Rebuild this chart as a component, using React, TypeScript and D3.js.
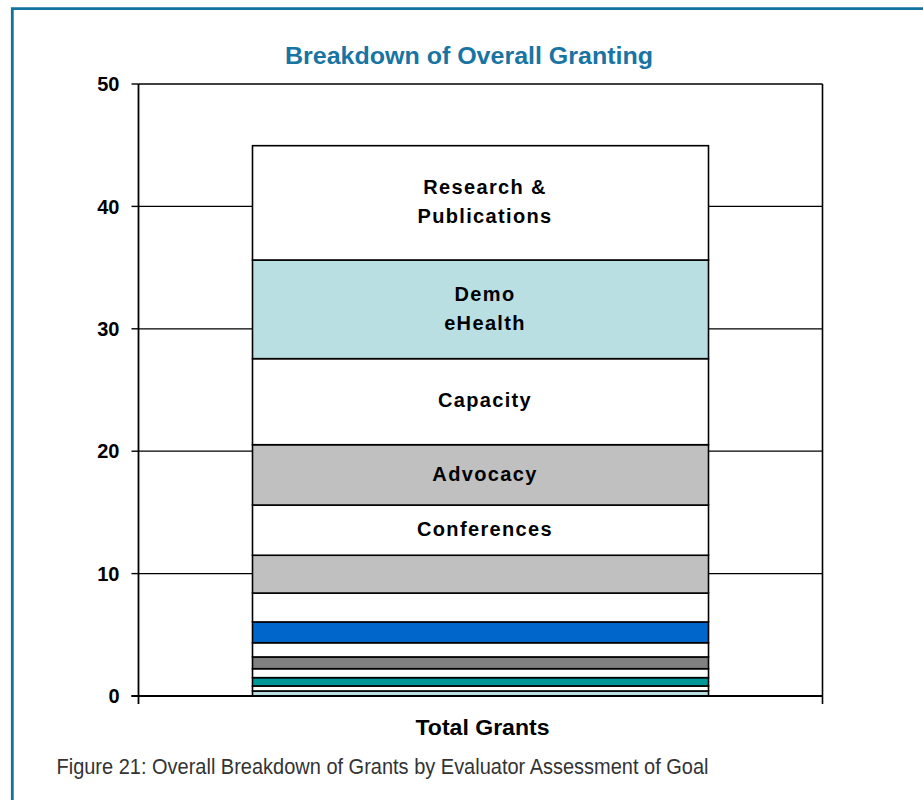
import React from "react";
import * as d3 from "d3";

const CATEGORY = "Total Grants";
const SEGMENT_LABELS: string[][] = [
  [], [], [], [], [], [], [], [], [],
  ["Conferences"],
  ["Advocacy"],
  ["Capacity"],
  ["Demo", "eHealth"],
  ["Research &", "Publications"],
];
const SEGMENT_VALUES: number[] = [0.41, 0.41, 0.68, 0.73, 0.96, 1.16, 1.7, 2.36, 3.09, 4.1, 4.93, 7.03, 8.06, 9.34];
const SEGMENT_COLORS: string[] = [
  "#b9dfe2", "#ffffff", "#009999", "#ffffff", "#808080", "#ffffff", "#0066cc",
  "#ffffff", "#c0c0c0", "#ffffff", "#c0c0c0", "#ffffff", "#b9dfe2", "#ffffff",
];
const Y_TICKS: number[] = [0, 10, 20, 30, 40, 50];
const TITLE = "Breakdown of Overall Granting";
const CAPTION = "Figure 21: Overall Breakdown of Grants by Evaluator Assessment of Goal";

export default function App() {
  const W = 923, H = 800;
  const left = 138.5, right = 822.5, top = 84, bottom = 696;
  const y = d3.scaleLinear().domain([0, 50]).range([bottom, top]);
  const x = d3.scaleBand<string>().domain([CATEGORY]).range([left, right]).paddingInner(0).paddingOuter(0.25);
  const bx = x(CATEGORY)!;
  const bw = x.bandwidth();
  const cum: number[] = [];
  SEGMENT_VALUES.reduce((acc, v) => { cum.push(acc); return acc + v; }, 0);
  const font = "'Liberation Sans', Arial, sans-serif";

  return (
    <svg width={W} height={H} style={{ position: "absolute", left: 0, top: 0, background: "#fff" }} fontFamily={font}>
      {/* page frame */}
      <path d={`M12.3,${H + 5} L12.3,8.7 L${W + 5},8.7`} fill="none" stroke="#12739f" strokeWidth={2.8} />
      {/* title */}
      <text x={469} y={63.5} textAnchor="middle" fontSize={23} fontWeight="bold" fill="#1874a2"
        textLength={368} lengthAdjust="spacingAndGlyphs">{TITLE}</text>
      {/* gridlines */}
      {Y_TICKS.filter(t => t > 0 && t < 50).map(t => (
        <line key={"g" + t} x1={left} x2={right} y1={y(t)} y2={y(t)} stroke="#000" strokeWidth={1.2} />
      ))}
      {/* frame top & right */}
      <line x1={left} x2={right} y1={top} y2={top} stroke="#000" strokeWidth={1.6} />
      <line x1={right} x2={right} y1={top} y2={bottom + 8} stroke="#000" strokeWidth={1.6} />
      {/* bars */}
      {SEGMENT_VALUES.map((v, i) => (
        <rect key={"s" + i} x={bx} width={bw} y={y(cum[i] + v)} height={y(cum[i]) - y(cum[i] + v)}
          fill={SEGMENT_COLORS[i]} stroke="#000" strokeWidth={1.6} />
      ))}
      {/* segment labels */}
      {SEGMENT_VALUES.map((v, i) => {
        const lines = SEGMENT_LABELS[i];
        if (!lines.length) return null;
        const cy = y(cum[i] + v / 2) - 1.5;
        const gap = 29;
        return lines.map((ln, j) => (
          <text key={"l" + i + j} x={bx + bw / 2 + 4.5} y={cy + (j - (lines.length - 1) / 2) * gap} dy="0.36em"
            textAnchor="middle" fontSize={20} fontWeight="bold" letterSpacing={1.35} fill="#000">{ln}</text>
        ));
      })}
      {/* y axis */}
      <line x1={left} x2={left} y1={top} y2={bottom + 8} stroke="#000" strokeWidth={1.8} />
      {Y_TICKS.map(t => (
        <g key={"t" + t}>
          <line x1={left - 7} x2={left} y1={y(t)} y2={y(t)} stroke="#000" strokeWidth={1.4} />
          <text x={119.5} y={y(t)} dy="0.36em" textAnchor="end" fontSize={20} fontWeight="bold" fill="#000">{t}</text>
        </g>
      ))}
      {/* x axis */}
      <line x1={left - 7} x2={right} y1={bottom} y2={bottom} stroke="#000" strokeWidth={1.8} />
      <text x={x(CATEGORY)! + bw / 2 + 2} y={735} textAnchor="middle" fontSize={22} fontWeight="bold" fill="#000"
        textLength={134} lengthAdjust="spacingAndGlyphs">{CATEGORY}</text>
      {/* caption */}
      <text x={56.5} y={774} fontSize={22} fill="#333" textLength={652} lengthAdjust="spacingAndGlyphs">{CAPTION}</text>
    </svg>
  );
}
